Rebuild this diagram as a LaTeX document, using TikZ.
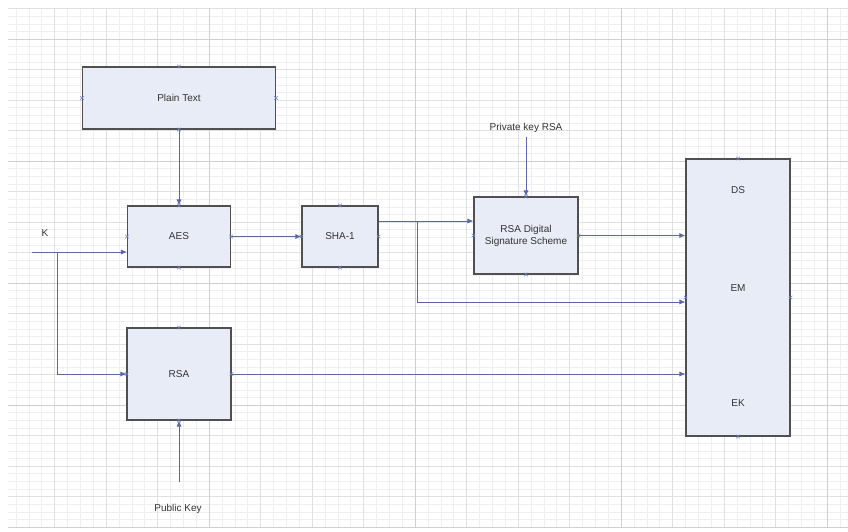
\documentclass[tikz,border=0pt]{standalone}
\usepackage{fontspec}
\setmainfont{Liberation Sans}
\usetikzlibrary{arrows.meta}
\definecolor{gridminor}{HTML}{EFEFF2}
\definecolor{gridmajor}{HTML}{DFDFE4}
\definecolor{griddark}{HTML}{CFCFD4}
\definecolor{boxfill}{HTML}{E8ECF6}
\definecolor{boxline}{HTML}{505050}
\definecolor{connline}{HTML}{5A68A8}
\definecolor{marker}{HTML}{7282C4}
\definecolor{txt}{HTML}{333333}
\tikzset{
  blk/.style={draw=boxline, line width=1.1pt, fill=boxfill, inner sep=0pt,
    font=\fontsize{10}{12}\selectfont, text=txt, align=center},
  lbl/.style={font=\fontsize{10}{12}\selectfont, text=txt, inner sep=1pt},
  conn/.style={draw=connline, line width=0.8pt, -{Latex[length=6pt,width=5pt]}},
  mk/.style={draw=marker, line width=0.5pt}
}
\begin{document}
\begin{tikzpicture}[x=1pt,y=-1pt]
\useasboundingbox (0,0) rectangle (848,531);
\fill[white] (0,0) rectangle (848,531);
% grid
\begin{scope}
\clip (8,8) rectangle (848,527);
\foreach \i in {0,...,66} {\draw[gridminor, line width=0.4pt] ({3+12.875*\i},8) -- ({3+12.875*\i},527);}
\foreach \j in {0,...,68} {\draw[gridminor, line width=0.4pt] (8,{8.5+7.625*\j}) -- (848,{8.5+7.625*\j});}
\foreach \i in {0,...,16} {\draw[gridmajor, line width=0.6pt] ({3+51.5*\i},8) -- ({3+51.5*\i},527);}
\foreach \j in {0,...,17} {\draw[gridmajor, line width=0.6pt] (8,{8.5+30.5*\j}) -- (848,{8.5+30.5*\j});}
\foreach \i in {1,...,4} {\draw[griddark, line width=0.7pt] ({3+206*\i},8) -- ({3+206*\i},527);}
\foreach \j in {0,...,4} {\draw[griddark, line width=0.7pt] (8,{39+122*\j}) -- (848,{39+122*\j});}
\end{scope}
% blocks
\node[blk, minimum width=193pt, minimum height=62pt] (pt) at (179,98) {Plain Text};
\node[blk, minimum width=103pt, minimum height=61pt] (aes) at (179,236.5) {AES};
\node[blk, minimum width=76pt, minimum height=61pt] (sha) at (340,236.5) {SHA-1};
\node[blk, minimum width=104pt, minimum height=77pt] (dss) at (526,235.5) {RSA Digital\\Signature Scheme};
\node[blk, minimum width=104pt, minimum height=277pt] (big) at (738,297.5) {};
\node[blk, minimum width=104pt, minimum height=92pt] (rsa) at (179,374) {RSA};
\node[lbl] (ds) at (738,190) {DS};
\node[lbl] (em) at (738,288) {EM};
\node[lbl] (ek) at (738,403) {EK};
% labels
\node[lbl] (k) at (45,233) {K};
\node[lbl] (priv) at (526,128) {Private key RSA};
\node[lbl] (pub) at (178,509) {Public Key};
% connection markers
\foreach \n in {pt,aes,sha,dss,big,rsa} {
  \foreach \a in {north,south,east,west} {
    \draw[mk] ([shift={(-1.8pt,-1.8pt)}]\n.\a) -- ([shift={(1.8pt,1.8pt)}]\n.\a);
    \draw[mk] ([shift={(-1.8pt,1.8pt)}]\n.\a) -- ([shift={(1.8pt,-1.8pt)}]\n.\a);
  }
}
% coordinates
\coordinate (kin) at (32,252);
\coordinate (kb) at (57,252);
\coordinate (shaout) at ([yshift=15.5pt]sha.east);
\coordinate (sb) at (417,221);
\coordinate (embranch) at (417,302);
\coordinate (privend) at (526,137);
\coordinate (pubend) at (179,482);
% connectors
\draw[conn] (pt.south) -- (aes.north);
\draw[conn] (kin) -- (kin -| aes.west);
\draw[conn] (kb) |- (rsa.west);
\draw[conn] (aes.east) -- (sha.west);
\draw[conn] (shaout) -- (shaout -| dss.west);
\draw[conn] (sb) -- (embranch) -- (embranch -| big.west);
\draw[conn] (dss.east) -- (dss.east -| big.west);
\draw[conn] (rsa.east) -- (rsa.east -| big.west);
\draw[conn] (privend) -- (dss.north);
\draw[conn] (pubend) -- (rsa.south);
\end{tikzpicture}
\end{document}
